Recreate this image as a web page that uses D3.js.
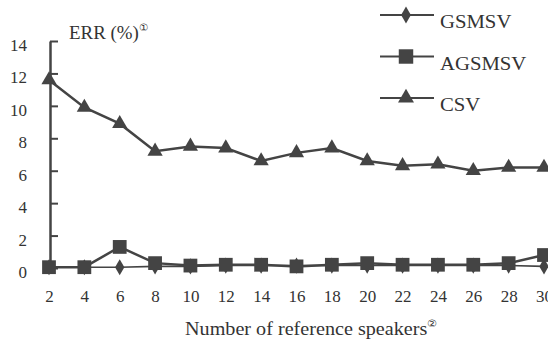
<!DOCTYPE html>
<html>
<head>
<meta charset="utf-8">
<script src="https://cdn.jsdelivr.net/npm/d3@7"></script>
<style>
  body { margin: 0; background: #fff; }
  svg { display: block; }
  text { font-family: "Liberation Serif", "Times New Roman", serif; fill: #333; }
</style>
</head>
<body>
<div id="chart"></div>
<script>
// speakers on x, error rate in percent on y
const speakers = [2, 4, 6, 8, 10, 12, 14, 16, 18, 20, 22, 24, 26, 28, 30];
const gsmsv  = [0.05, 0.05, 0.05, 0.1, 0.1, 0.15, 0.15, 0.15, 0.15, 0.15, 0.15, 0.15, 0.15, 0.15, 0.1];
const agsmsv = [0.05, 0.05, 1.3, 0.3, 0.15, 0.2, 0.2, 0.1, 0.2, 0.3, 0.2, 0.2, 0.2, 0.3, 0.8];
const csv    = [11.6, 9.9, 8.9, 7.2, 7.5, 7.4, 6.6, 7.1, 7.4, 6.6, 6.3, 6.4, 6.0, 6.2, 6.2];
const yTicks = [0, 2, 4, 6, 8, 10, 12, 14];

const width = 548, height = 341;
const ink = "#444";
const stretch = 1.12; // scanned figure is a bit wider than the font

const svg = d3.select("#chart").append("svg")
    .attr("width", width)
    .attr("height", height);

const x = d3.scaleLinear().domain([2, 30]).range([49, 544]);
const y = d3.scaleLinear().domain([0, 14]).range([268, 41]);

// y axis, ticks point into the plot
const yAxis = svg.append("g")
    .attr("transform", `translate(${x(2) + 1},0)`)
    .call(d3.axisLeft(y).tickValues(yTicks).tickSizeInner(-8).tickSizeOuter(0).tickPadding(23));
yAxis.select(".domain").attr("stroke", ink).attr("stroke-width", 2.5);
yAxis.selectAll(".tick line").attr("stroke", ink).attr("stroke-width", 2);
yAxis.selectAll(".tick text")
    .attr("dy", "0.56em")
    .style("font-size", "17px")
    .style("font-family", "Liberation Serif, serif")
    .attr("fill", "#333");

// x labels only, no axis line
const xAxis = svg.append("g")
    .attr("transform", `translate(0,${y(0)})`)
    .call(d3.axisBottom(x).tickValues(speakers).tickSize(0).tickPadding(22));
xAxis.select(".domain").remove();
xAxis.selectAll(".tick text")
    .style("font-size", "17px")
    .style("font-family", "Liberation Serif, serif")
    .attr("fill", "#333");

const line = d3.line().x((d, i) => x(speakers[i])).y(d => y(d));

const series = [
    { name: "GSMSV", values: gsmsv, sym: d3.symbolDiamond, size: 75, sw: 1.6 },
    { name: "AGSMSV", values: agsmsv, sym: d3.symbolSquare, size: 190, sw: 2.5 },
    { name: "CSV", values: csv, sym: d3.symbolTriangle, size: 100, sw: 2.5 }
];

series.forEach(s => {
    svg.append("path")
        .attr("d", line(s.values))
        .attr("fill", "none")
        .attr("stroke", ink)
        .attr("stroke-width", s.sw);
    svg.append("g").selectAll("path")
        .data(s.values)
        .join("path")
        .attr("transform", (d, i) => `translate(${x(speakers[i])},${y(d)})`)
        .attr("d", d3.symbol().type(s.sym).size(s.size))
        .attr("fill", ink);
});

// legend
const legend = svg.append("g");
series.forEach((s, i) => {
    const ly = 15 + i * 41.5;
    legend.append("line")
        .attr("x1", 380).attr("x2", 434)
        .attr("y1", ly).attr("y2", ly)
        .attr("stroke", ink).attr("stroke-width", 2);
    legend.append("path")
        .attr("transform", `translate(406,${ly})`)
        .attr("d", d3.symbol().type(s.sym).size(s.size * 1.1))
        .attr("fill", ink);
    legend.append("text")
        .attr("transform", `translate(440,${ly + 13}) scale(${stretch},1)`)
        .style("font-size", "18.5px")
        .text(s.name);
});

// axis titles
const yt = svg.append("text")
    .attr("transform", `translate(69,39) scale(1.05,1)`)
    .style("font-size", "18px");
yt.append("tspan").text("ERR (%)");
yt.append("tspan").attr("dy", -8).style("font-size", "10px").text("①");

const xt = svg.append("text")
    .attr("transform", `translate(185,335) scale(${stretch},1)`)
    .style("font-size", "18px");
xt.append("tspan").text("Number of reference speakers");
xt.append("tspan").attr("dy", -8).style("font-size", "10px").text("②");
</script>
</body>
</html>
